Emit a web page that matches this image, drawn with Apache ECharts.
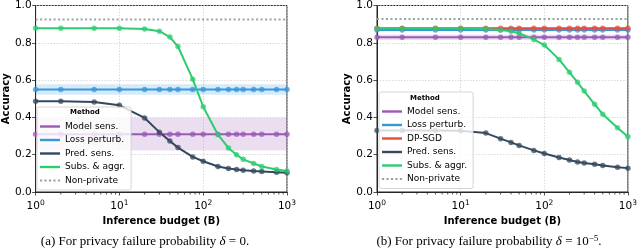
<!DOCTYPE html>
<html><head><meta charset="utf-8">
<script src="https://cdn.jsdelivr.net/npm/echarts@6/dist/echarts.min.js"></script>
<style>html,body{margin:0;padding:0;background:#fff}#c{width:640px;height:249px}</style>
</head><body><div id="c"></div>
<script>
// ---- data ----
const budgets = [1,2,5,10,20,30,40,50,75,100,150,200,250,300,400,500,750,1000];
const minorTickValues = [2,3,4,5,6,7,8,9,20,30,40,50,60,70,80,90,200,300,400,500,600,700,800,900];
const yTicks = [0,0.2,0.4,0.6,0.8,1.0];

// (a) delta = 0
const modelSensA = 0.31, modelSensBandA = [0.222, 0.398];
const lossPerturbA = 0.55, lossPerturbBandA = [0.522, 0.578];
const predSensA = [0.486,0.486,0.483,0.465,0.397,0.321,0.273,0.238,0.188,0.165,0.137,0.126,0.121,0.117,0.112,0.110,0.106,0.103];
const subsAggrA = [0.878,0.878,0.878,0.878,0.874,0.862,0.831,0.780,0.605,0.457,0.307,0.236,0.200,0.175,0.153,0.137,0.121,0.113];
const nonPrivateA = 0.925;

// (b) delta = 1e-5
const modelSensB = 0.830, modelSensBandB = [0.815, 0.845];
const lossPerturbB = 0.868, lossPerturbBandB = [0.862, 0.874];
const dpSgdB = 0.878, dpSgdBandB = [0.872, 0.884];
const predSensB = [0.330,0.330,0.330,0.328,0.316,0.286,0.266,0.250,0.223,0.206,0.185,0.172,0.161,0.156,0.149,0.142,0.133,0.128];
const subsAggrB = [0.877,0.877,0.877,0.877,0.874,0.869,0.862,0.851,0.818,0.788,0.711,0.642,0.588,0.541,0.470,0.417,0.345,0.296];
const nonPrivateB = 0.927;

const legendA = ['Model sens.','Loss perturb.','Pred. sens.','Subs. & aggr.','Non-private'];
const legendB = ['Model sens.','Loss perturb.','DP-SGD','Pred. sens.','Subs. & aggr.','Non-private'];

// ---- styles ----
const COL = {'Model sens.':'#9b59b6','Loss perturb.':'#3498db','DP-SGD':'#e74c3c','Pred. sens.':'#34495e','Subs. & aggr.':'#2ecc71','Non-private':'#95a5a6'};
const FONT = 'DejaVu Sans';
const AXC = '#262626';

function pairs(vals){ return budgets.map((b,i)=>[b, vals[i]]); }
function consts(v){ return budgets.map(b=>[b, v]); }
function rgba(hex,a){const n=parseInt(hex.slice(1),16);return `rgba(${n>>16},${(n>>8)&255},${n&255},${a})`;}

function lineSeries(name, data, gi, band){
  const s = {
    type:'line', name, xAxisIndex:gi, yAxisIndex:gi, data,
    color: COL[name],
    symbol:'circle', symbolSize:5.5, showSymbol:true,
    lineStyle:{width:2, color:COL[name]},
    itemStyle:{color:rgba(COL[name],0.75), borderWidth:0},
    emphasis:{disabled:true}, animation:false, z:3
  };
  if (band) {
    s.markArea = {silent:true, itemStyle:{color:rgba(COL[name],0.2)},
      data:[[{yAxis:band[0]},{yAxis:band[1]}]]};
  }
  return s;
}
function nonPrivSeries(v, gi){
  return {type:'line', name:'Non-private', xAxisIndex:gi, yAxisIndex:gi, data:consts(v),
    color:COL['Non-private'], showSymbol:false, symbol:'none',
    lineStyle:{width:2, type:[2,2.5], color:COL['Non-private']}, animation:false, z:3};
}
function minorTicks(gi){
  return {type:'custom', xAxisIndex:gi, yAxisIndex:gi, silent:true, clip:false, animation:false, z:10,
    data: minorTickValues.map(v=>[v,0]),
    renderItem:(params, api)=>{
      const p = api.coord([api.value(0), api.value(1)]);
      return {type:'line', shape:{x1:p[0], y1:p[1]+0.5, x2:p[0], y2:p[1]+2.5}, style:{stroke:AXC, lineWidth:0.8}};
    }};
}

const supMap = {'0':'⁰','1':'¹','2':'²','3':'³'};
function xAxis(gi){
  return {type:'log', logBase:10, gridIndex:gi, min:1, max:1000,
    name:'Inference budget (B)', nameLocation:'middle', nameGap:19,
    nameTextStyle:{fontFamily:FONT, fontWeight:'bold', fontSize:10, color:'#000'},
    axisLine:{show:true, lineStyle:{color:AXC, width:1}},
    axisTick:{show:true, inside:false, length:3.5, lineStyle:{color:AXC, width:0.8}},
    axisLabel:{margin:4, fontFamily:FONT, fontSize:10.5, color:'#000',
      formatter:(v)=>{const e=Math.round(Math.log10(v));return '{b|10}{s|'+e+'}';},
      rich:{b:{fontFamily:FONT,fontSize:10.5,color:'#000',padding:[5,0,0,0]},s:{fontFamily:FONT,fontSize:7.5,color:'#000',padding:[0,0,2,0]}}},
    splitLine:{show:true, lineStyle:{color:'#d0d0d0', width:0.8, type:[1.5,1.5]}},
    minorTick:{show:false}};
}
function yAxis(gi){
  return {type:'value', gridIndex:gi, min:0, max:1, interval:0.2,
    name:'Accuracy', nameLocation:'middle', nameGap:21,
    nameTextStyle:{fontFamily:FONT, fontWeight:'bold', fontSize:10, color:'#000'},
    axisLine:{show:true, lineStyle:{color:AXC, width:1}},
    axisTick:{show:true, inside:false, length:3.5, lineStyle:{color:AXC, width:0.8}},
    axisLabel:{margin:4, fontFamily:FONT, fontSize:10.5, color:'#000', formatter:(v)=>v.toFixed(1)},
    splitLine:{show:true, lineStyle:{color:'#d0d0d0', width:0.8, type:[1.5,1.5]}}};
}
const dotIcon = 'path://M0,0h2.2v2.2h-2.2zM4.5,0h2.2v2.2h-2.2zM9,0h2.2v2.2h-2.2zM13.5,0h2.2v2.2h-2.2zM18,0h2.2v2.2h-2.2z';
function legend(names, left, top){
  return {orient:'vertical', left, top, itemWidth:20, itemHeight:2.4, itemGap:2.5,
    padding:[14,6,4,3], backgroundColor:'rgba(255,255,255,0.8)', borderColor:'#cccccc', borderWidth:0.8, borderRadius:2,
    textStyle:{fontFamily:FONT, fontSize:9, color:'#000', lineHeight:11},
    selectedMode:false, z:20,
    data:names.map(n=>({name:n, icon: n==='Non-private'?dotIcon:'rect', itemStyle:{color:COL[n]}}))};
}

const series = [
  lineSeries('Model sens.', consts(modelSensA), 0, modelSensBandA),
  lineSeries('Loss perturb.', consts(lossPerturbA), 0, lossPerturbBandA),
  lineSeries('Pred. sens.', pairs(predSensA), 0),
  lineSeries('Subs. & aggr.', pairs(subsAggrA), 0),
  nonPrivSeries(nonPrivateA, 0),
  minorTicks(0),
  lineSeries('Model sens.', consts(modelSensB), 1, modelSensBandB),
  lineSeries('Loss perturb.', consts(lossPerturbB), 1, lossPerturbBandB),
  lineSeries('DP-SGD', consts(dpSgdB), 1, dpSgdBandB),
  lineSeries('Pred. sens.', pairs(predSensB), 1),
  lineSeries('Subs. & aggr.', pairs(subsAggrB), 1),
  nonPrivSeries(nonPrivateB, 1),
  minorTicks(1)
];

const chart = echarts.init(document.getElementById('c'), null, {renderer:'canvas'});
chart.setOption({
  animation:false,
  backgroundColor:'#fff',
  grid:[
    {left:33, right:353, top:4, bottom:57, show:true, borderColor:AXC, borderWidth:1, backgroundColor:'transparent'},
    {left:377, right:9, top:4, bottom:57, show:true, borderColor:AXC, borderWidth:1, backgroundColor:'transparent'}
  ],
  xAxis:[xAxis(0), xAxis(1)],
  yAxis:[yAxis(0), yAxis(1)],
  legend:[legend(legendA, 37, 107), legend(legendB, 379, 92)],
  graphic:[
    {type:'text', left:70, top:109, z:100, style:{text:'Method', fontFamily:FONT, fontWeight:'bold', fontSize:7, fill:'#000'}},
    {type:'text', left:410, top:95, z:100, style:{text:'Method', fontFamily:FONT, fontWeight:'bold', fontSize:7, fill:'#000'}},
    {type:'text', x:145, y:242, z:100, style:{text:'(a) For privacy failure probability {i|δ} = 0.', align:'center', verticalAlign:'middle',
      fontFamily:'Liberation Serif', fontSize:13, fill:'#000', rich:{i:{fontFamily:'Liberation Serif', fontStyle:'italic', fontSize:13, fill:'#000'}}}},
    {type:'text', x:489, y:242, z:100, style:{text:'(b) For privacy failure probability {i|δ} = 10{s|−5}.', align:'center', verticalAlign:'middle',
      fontFamily:'Liberation Serif', fontSize:13, fill:'#000', rich:{i:{fontFamily:'Liberation Serif', fontStyle:'italic', fontSize:13, fill:'#000'}, s:{fontFamily:'Liberation Serif', fontSize:9, fill:'#000', padding:[0,0,7,0]}}}}
  ],
  series
});
</script></body></html>
